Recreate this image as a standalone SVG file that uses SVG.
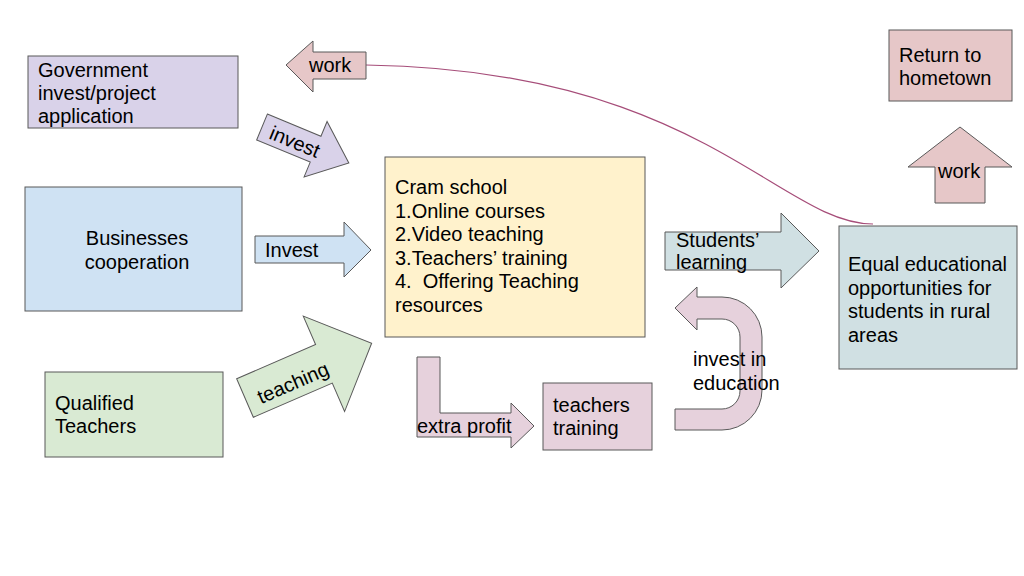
<svg xmlns="http://www.w3.org/2000/svg" width="1024" height="576" viewBox="0 0 1024 576">
<style>
  .s { stroke:#595959; stroke-width:1; }
  text { font-family:"Liberation Sans", Arial, sans-serif; font-size:20px; fill:#000; }
  .lav { fill:#d9d2e9; }
  .blu { fill:#cfe2f3; }
  .grn { fill:#d9ead3; }
  .yel { fill:#fff2cc; }
  .cya { fill:#d0e0e3; }
  .red { fill:#e6c7c8; }
  .mag { fill:#e6d1dc; }
</style>
<rect width="1024" height="576" fill="#ffffff"/>

<g id="connectors">
  <path d="M366,65 C700,70 780,224 873,224" fill="none" stroke="#a64d79" stroke-width="1.2"/>
</g>

<g id="government">
  <rect class="s lav" x="28" y="56" width="210" height="72"/>
  <text x="38" y="77">Government</text>
  <text x="38" y="100">invest/project</text>
  <text x="38" y="123">application</text>
</g>

<g id="businesses">
  <rect class="s blu" x="25" y="187" width="217" height="124"/>
  <text x="137" y="245" text-anchor="middle">Businesses</text>
  <text x="137" y="269" text-anchor="middle">cooperation</text>
</g>

<g id="teachers">
  <rect class="s grn" x="45" y="372" width="178" height="85"/>
  <text x="55" y="410">Qualified</text>
  <text x="55" y="433">Teachers</text>
</g>

<g id="cram-school">
  <rect class="s yel" x="385" y="157" width="260" height="180"/>
  <text x="395" y="194">Cram school</text>
  <text x="395" y="217.5">1.Online courses</text>
  <text x="395" y="241">2.Video teaching</text>
  <text x="395" y="264.5">3.Teachers’ training</text>
  <text x="395" y="288" xml:space="preserve">4.  Offering Teaching</text>
  <text x="395" y="311.5">resources</text>
</g>

<g id="teachers-training">
  <rect class="s mag" x="543" y="383" width="109" height="67"/>
  <text x="553" y="412">teachers</text>
  <text x="553" y="435">training</text>
</g>

<g id="equal">
  <rect class="s cya" x="839" y="226" width="178" height="143"/>
  <text x="848" y="271">Equal educational</text>
  <text x="848" y="294.5">opportunities for</text>
  <text x="848" y="318">students in rural</text>
  <text x="848" y="341.5">areas</text>
</g>

<g id="return">
  <rect class="s red" x="889" y="30" width="123" height="71"/>
  <text x="899" y="62">Return to</text>
  <text x="899" y="85">hometown</text>
</g>

<g id="arrow-work-top">
  <polygon class="s red" points="286,65 313,41 313,52 366,52 366,79 313,79 313,92"/>
  <text x="309" y="72">work</text>
</g>

<g id="arrow-invest-gov" transform="translate(262,127) rotate(22.5)">
  <polygon class="s lav" points="0,-14 58,-14 58,-30 94,0 58,30 58,14 0,14"/>
  <text x="36" y="8" text-anchor="middle">invest</text>
</g>

<g id="arrow-invest-bus">
  <polygon class="s blu" points="255,236 344,236 344,222 371,250 344,277 344,263 255,263"/>
  <text x="265" y="257">Invest</text>
</g>

<g id="arrow-teaching" transform="translate(245,398) rotate(-23.4)">
  <polygon class="s grn" points="0,-21 86,-21 86,-52 138,0 86,52 86,21 0,21"/>
  <text x="50" y="12" text-anchor="middle">teaching</text>
</g>

<g id="arrow-students">
  <polygon class="s cya" points="665,232 781,232 781,213 819,251 781,288 781,270 665,270"/>
  <text x="676" y="247">Students’</text>
  <text x="676" y="269">learning</text>
</g>

<g id="arrow-extra-profit">
  <polygon class="s mag" points="417,357 440,357 440,413 511,413 511,403 534,426 511,448 511,437 417,437"/>
  <text x="417" y="433">extra profit</text>
</g>

<g id="arrow-invest-education">
  <path class="s mag" d="M675,308 L697,287 L697,297 L722,297 A40,40 0 0 1 762,337 L762,390 A40,40 0 0 1 722,430 L675,430 L675,409 L722,409 A18,18 0 0 0 740,391 L740,337 A18,18 0 0 0 722,319 L697,319 L697,330 Z"/>
  <text x="693" y="366">invest in</text>
  <text x="693" y="390">education</text>
</g>

<g id="arrow-work-up">
  <polygon class="s red" points="960,127 1012,167 985,167 985,203 935,203 935,167 908,167"/>
  <text x="938" y="178">work</text>
</g>
</svg>
